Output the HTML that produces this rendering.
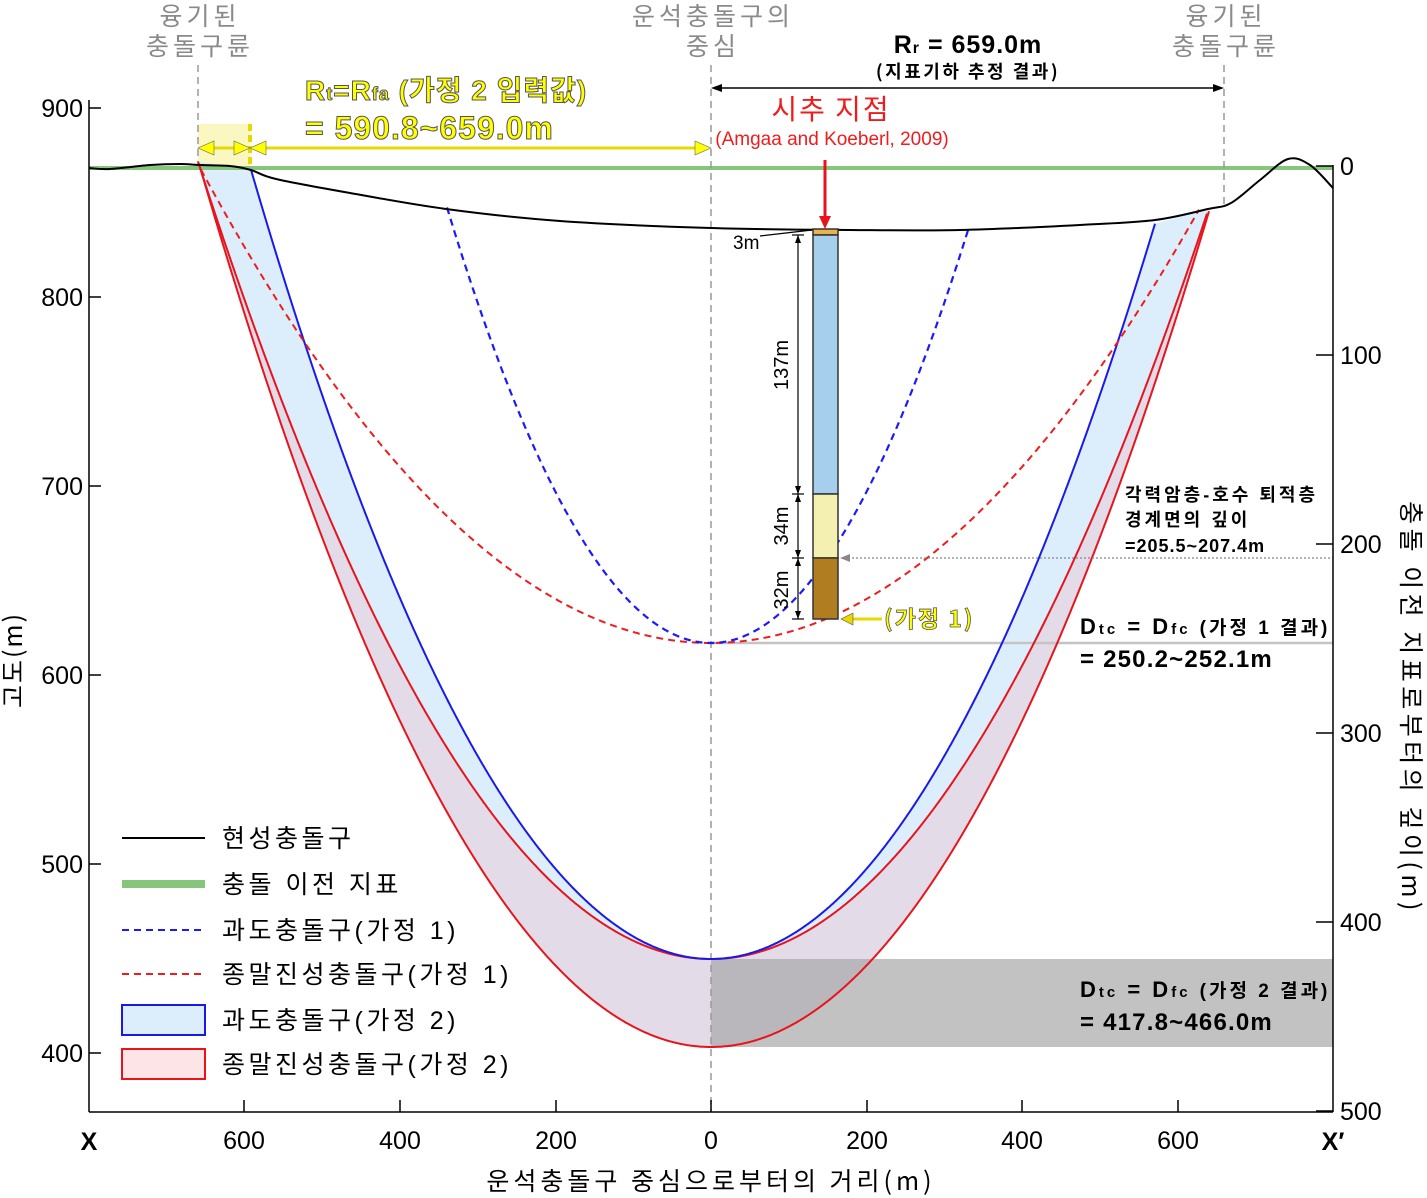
<!DOCTYPE html>
<html><head><meta charset="utf-8"><style>
html,body{margin:0;padding:0;background:#fff}
svg{display:block}
text{font-family:"Liberation Sans","Noto Sans CJK KR",sans-serif}
.g{fill:#8a8a8a;font-size:25px}
.k{font-family:"Noto Sans CJK KR","Liberation Sans",sans-serif}
</style></head><body>
<svg id="s" width="1427" height="1198" viewBox="0 0 1427 1198" xmlns="http://www.w3.org/2000/svg">
<rect x="198" y="124" width="52" height="44" fill="#fbf7c0"/>
<path id="fillPink" fill="#e4dbe9" stroke="none"/>
<path id="fillBlue" fill="#dceefc" stroke="none"/>
<rect x="711" y="959" width="622" height="88" fill="#a8a8a8" fill-opacity="0.7"/>
<line x1="89" y1="168" x2="1333" y2="168" stroke="#86c67c" stroke-width="4"/>
<line x1="711" y1="643" x2="1333" y2="643" stroke="#c4c4c4" stroke-width="2.5"/>
<line x1="198" y1="65" x2="198" y2="165" stroke="#999" stroke-width="1.5" stroke-dasharray="7,5"/>
<line x1="711" y1="65" x2="711" y2="1112" stroke="#999" stroke-width="1.5" stroke-dasharray="7,5"/>
<line x1="1224" y1="65" x2="1224" y2="205" stroke="#999" stroke-width="1.5" stroke-dasharray="7,5"/>
<line x1="250" y1="124" x2="250" y2="168" stroke="#e8d800" stroke-width="4" stroke-dasharray="7,4"/>
<path id="redOuter" fill="none" stroke="#e8141c" stroke-width="2"/>
<path id="redInner" fill="none" stroke="#e8141c" stroke-width="2"/>
<path id="blueSolid" fill="none" stroke="#1a1ae8" stroke-width="2"/>
<path id="redDash" fill="none" stroke="#f01c1c" stroke-width="2" stroke-dasharray="7,5"/>
<path id="blueDash" fill="none" stroke="#1a1aff" stroke-width="2.2" stroke-dasharray="7,5"/>
<path id="terrain" fill="none" stroke="#000" stroke-width="2"/>
<rect x="813" y="229" width="25" height="6" fill="#e9b24c" stroke="#333" stroke-width="1.5"/>
<rect x="813" y="235" width="25" height="259" fill="#a6cfee" stroke="#333" stroke-width="1.5"/>
<rect x="813" y="494" width="25" height="64" fill="#f4f0b2" stroke="#333" stroke-width="1.5"/>
<rect x="813" y="558" width="25" height="61" fill="#b07d20" stroke="#333" stroke-width="1.5"/>
<line x1="798" y1="235" x2="798" y2="619" stroke="#000" stroke-width="1.2"/>
<g stroke="#000" stroke-width="1.2"><line x1="792" y1="235" x2="804" y2="235"/><line x1="792" y1="494" x2="804" y2="494"/><line x1="792" y1="558" x2="804" y2="558"/><line x1="792" y1="619" x2="804" y2="619"/><line x1="760" y1="236" x2="812" y2="230"/></g>
<g fill="#000"><path d="M798,494 l-3,-8 h6z"/><path d="M798,494 l-3,8 h6z"/><path d="M798,558 l-3,-8 h6z"/><path d="M798,558 l-3,8 h6z"/><path d="M798,619 l-3,-8 h6z"/><path d="M798,235 l-3,8 h6z"/></g>
<text x="733" y="249" font-size="19">3m</text>
<text transform="translate(788,365) rotate(-90)" font-size="20" text-anchor="middle">137m</text>
<text transform="translate(788,526) rotate(-90)" font-size="20" text-anchor="middle">34m</text>
<text transform="translate(788,590) rotate(-90)" font-size="20" text-anchor="middle">32m</text>
<line x1="825" y1="160" x2="825" y2="218" stroke="#e8141c" stroke-width="3"/>
<path d="M825,229 l-6,-13 h12z" fill="#e8141c"/>
<line x1="852" y1="619" x2="882" y2="619" stroke="#e8d800" stroke-width="3"/>
<path d="M841,619 l12,-6 v12z" fill="#e8d800" stroke="#555" stroke-width="0.6"/>
<text x="884" y="627" font-size="23" font-weight="bold" fill="#ffff00" stroke="#555" stroke-width="0.8" letter-spacing="2" class="k">(가정 1)</text>
<line x1="848" y1="558" x2="1333" y2="558" stroke="#888" stroke-width="1.2" stroke-dasharray="2,2"/>
<path d="M840,558 l10,-4 v8z" fill="#888"/>
<line x1="718" y1="88" x2="1217" y2="88" stroke="#000" stroke-width="1.5"/>
<path d="M711,88 l11,-4 v8z M1224,88 l-11,-4 v8z" fill="#000"/>
<line x1="212" y1="148" x2="697" y2="148" stroke="#e8d800" stroke-width="3"/>
<path d="M198,148 l16,-7 v14z M711,148 l-16,-7 v14z M250,148 l16,-7 v14z M250,148 l-16,-7 v14z" fill="#ffff00" stroke="#666" stroke-width="0.6"/>
<g stroke="#000" stroke-width="1.5" fill="none">
<line x1="89" y1="100" x2="89" y2="1112"/>
<line x1="1333" y1="165" x2="1333" y2="1112"/>
<line x1="89" y1="1112" x2="1333" y2="1112"/>
<line x1="89" y1="108" x2="101" y2="108"/><line x1="89" y1="297" x2="101" y2="297"/><line x1="89" y1="486" x2="101" y2="486"/><line x1="89" y1="675" x2="101" y2="675"/><line x1="89" y1="864" x2="101" y2="864"/><line x1="89" y1="1053" x2="101" y2="1053"/>
<line x1="1316" y1="166" x2="1333" y2="166"/><line x1="1316" y1="355" x2="1333" y2="355"/><line x1="1316" y1="544" x2="1333" y2="544"/><line x1="1316" y1="733" x2="1333" y2="733"/><line x1="1316" y1="922" x2="1333" y2="922"/><line x1="1316" y1="1111" x2="1333" y2="1111"/>
<line x1="244" y1="1112" x2="244" y2="1100"/><line x1="400" y1="1112" x2="400" y2="1100"/><line x1="556" y1="1112" x2="556" y2="1100"/><line x1="711" y1="1112" x2="711" y2="1100"/><line x1="867" y1="1112" x2="867" y2="1100"/><line x1="1022" y1="1112" x2="1022" y2="1100"/><line x1="1178" y1="1112" x2="1178" y2="1100"/>
</g>
<g font-size="25" text-anchor="end">
<text x="83" y="117">900</text><text x="83" y="306">800</text><text x="83" y="495">700</text><text x="83" y="684">600</text><text x="83" y="873">500</text><text x="83" y="1062">400</text>
</g>
<g font-size="25" text-anchor="start">
<text x="1340" y="175">0</text><text x="1340" y="364">100</text><text x="1340" y="553">200</text><text x="1340" y="742">300</text><text x="1340" y="931">400</text><text x="1340" y="1120">500</text>
</g>
<g font-size="25" text-anchor="middle">
<text x="244" y="1149">600</text><text x="400" y="1149">400</text><text x="556" y="1149">200</text><text x="711" y="1149">0</text><text x="867" y="1149">200</text><text x="1022" y="1149">400</text><text x="1178" y="1149">600</text>
<text x="89" y="1150" font-weight="bold">X</text><text x="1333" y="1150" font-weight="bold">X′</text>
<text x="711" y="1190" class="k" letter-spacing="4">운석충돌구 중심으로부터의 거리(m)</text>
</g>
<text transform="translate(22,660) rotate(-90)" font-size="25" text-anchor="middle" class="k" letter-spacing="2">고도(m)</text>
<text transform="translate(1402,708) rotate(90)" font-size="25" text-anchor="middle" class="k" letter-spacing="4.5">충돌 이전 지표로부터의 깊이(m)</text>
<g class="g k" text-anchor="middle" letter-spacing="4">
<text x="200" y="25">융기된</text><text x="200" y="55">충돌구륜</text>
<text x="713" y="25">운석충돌구의</text><text x="713" y="55">중심</text>
<text x="1226" y="25">융기된</text><text x="1226" y="55">충돌구륜</text>
</g>
<text x="968" y="53" font-size="25" font-weight="bold" text-anchor="middle" letter-spacing="1">R<tspan font-size="16">r</tspan> = 659.0m</text>
<text x="968" y="78" font-size="18" font-weight="bold" text-anchor="middle" class="k" letter-spacing="2.5">(지표기하 추정 결과)</text>
<g fill="#ffff00" stroke="#555" stroke-width="1" font-weight="bold" style="font-family:'Liberation Sans Narrow','Liberation Sans','Noto Sans CJK KR',sans-serif">
<text x="305" y="100" font-size="28" letter-spacing="1">R<tspan font-size="18">t</tspan>=R<tspan font-size="18">fa</tspan> (가정 2 입력값)</text>
<text x="305" y="139" font-size="32" letter-spacing="1">= 590.8~659.0m</text>
</g>
<text x="831" y="119" font-size="28" fill="#f01c1c" text-anchor="middle" class="k" letter-spacing="2">시추 지점</text>
<text x="832" y="145" font-size="19" fill="#f01c1c" text-anchor="middle">(Amgaa and Koeberl, 2009)</text>
<g font-weight="bold" class="k">
<text x="1125" y="501" font-size="18" letter-spacing="3">각력암층-호수 퇴적층</text>
<text x="1125" y="526" font-size="18" letter-spacing="3">경계면의 깊이</text>
<text x="1125" y="552" font-size="18" letter-spacing="1">=205.5~207.4m</text>
<text x="1080" y="634" font-size="22" letter-spacing="3">D<tspan font-size="15">tc</tspan> = D<tspan font-size="15">fc</tspan> <tspan font-size="19">(가정 1 결과)</tspan></text>
<text x="1080" y="667" font-size="24" letter-spacing="1.2">= 250.2~252.1m</text>
<text x="1080" y="997" font-size="22" letter-spacing="3">D<tspan font-size="15">tc</tspan> = D<tspan font-size="15">fc</tspan> <tspan font-size="19">(가정 2 결과)</tspan></text>
<text x="1080" y="1030" font-size="24" letter-spacing="1.2">= 417.8~466.0m</text>
</g>
<line x1="122" y1="838" x2="205" y2="838" stroke="#000" stroke-width="2"/>
<line x1="122" y1="884" x2="205" y2="884" stroke="#86c67c" stroke-width="8"/>
<line x1="122" y1="930" x2="205" y2="930" stroke="#1a1aff" stroke-width="2" stroke-dasharray="7,5"/>
<line x1="122" y1="974" x2="205" y2="974" stroke="#f01c1c" stroke-width="2" stroke-dasharray="7,5"/>
<rect x="122" y="1005" width="83" height="30" fill="#dceefc" stroke="#1a1ae8" stroke-width="2"/>
<rect x="122" y="1049" width="83" height="30" fill="#fde4e6" stroke="#e8141c" stroke-width="2"/>
<g font-size="25" class="k" letter-spacing="3.5">
<text x="222" y="847">현성충돌구</text>
<text x="222" y="893">충돌 이전 지표</text>
<text x="222" y="939">과도충돌구(가정 1)</text>
<text x="222" y="983">종말진성충돌구(가정 1)</text>
<text x="222" y="1029">과도충돌구(가정 2)</text>
<text x="222" y="1073">종말진성충돌구(가정 2)</text>
</g>
</svg>
<script>
function cr(p){var d="M"+p[0][0]+","+p[0][1];for(var i=0;i<p.length-1;i++){var a=p[i-1]||p[i],b=p[i],c=p[i+1],e=p[i+2]||c;d+=" C"+(b[0]+(c[0]-a[0])/6).toFixed(1)+","+(b[1]+(c[1]-a[1])/6).toFixed(1)+" "+(c[0]-(e[0]-b[0])/6).toFixed(1)+","+(c[1]-(e[1]-b[1])/6).toFixed(1)+" "+c[0]+","+c[1];}return d;}
function para(v,k,L,R){var p=[];for(var x=-L;x<=R;x+=1){p.push([711+x,v-k*x*x]);}if(p[p.length-1][0]!=711+R)p.push([711+R,v-k*R*R]);return p;}
function pd(p){return "M"+p.map(function(q){return q[0].toFixed(1)+","+q[1].toFixed(1)}).join(" L");}
var terrain=[[89,168],[110,169],[150,165],[180,164],[200,165],[230,166],[251,170],[276,179],[350,193],[446,209],[560,221],[711,228],[850,230],[960,230],[1080,225],[1155,220],[1208,209],[1231,203],[1260,180],[1288,159],[1310,165],[1333,188]];
var blueS=para(959,0.00373,460,444);
var redI=para(959,0.00303,513,496);
var redO=para(1047,0.00337,512,498);
var redD=para(643,0.00182,510,488);
var blueD=para(643,0.00625,264,257);
function S(id,d){document.getElementById(id).setAttribute("d",d);}
S("terrain",cr(terrain));S("blueSolid",pd(blueS));S("redInner",pd(redI));S("redOuter",pd(redO));S("redDash",pd(redD));S("blueDash",pd(blueD));
S("fillBlue",pd(blueS)+" L1208,209 "+pd(redI.slice().reverse()).replace("M","L")+" L230,166 Z");
S("fillPink",pd(redI)+" "+pd(redO.slice().reverse()).replace("M","L")+" Z");
</script>
</body></html>
